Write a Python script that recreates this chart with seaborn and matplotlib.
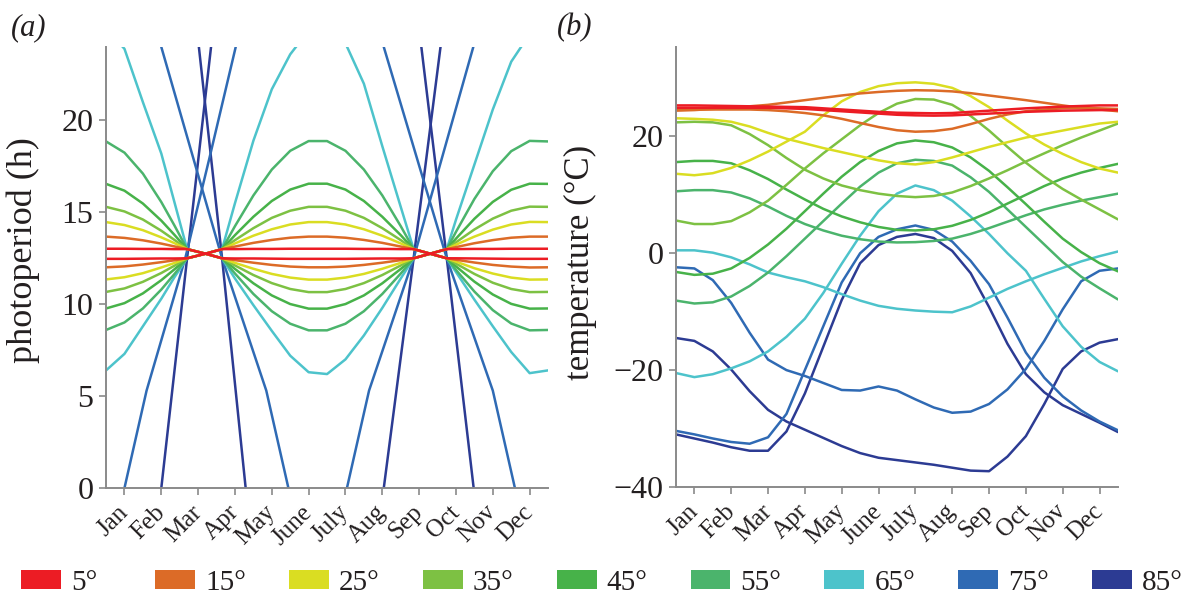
import numpy as np
import pandas as pd
import matplotlib
matplotlib.use("Agg")
import matplotlib.pyplot as plt
import matplotlib.transforms as mtransforms
from matplotlib.patches import Patch
import seaborn as sns

# ---------------- data ----------------
MONTHS = ["Jan", "Feb", "Mar", "Apr", "May", "June", "July", "Aug", "Sep", "Oct", "Nov", "Dec"]
LATS = ["5°", "15°", "25°", "35°", "45°", "55°", "65°", "75°", "85°"]

# (a) photoperiod (h); month index 0 = Jan tick
photo_x = [-0.5, 0, 0.5, 1, 1.35, 1.7, 2.2, 2.65, 3, 3.5, 4, 4.5, 5, 5.5, 6, 6.5,
           7, 7.5, 7.85, 8.3, 8.75, 9, 9.5, 10, 10.5, 11, 11.5]
photo_5N = [12.47, 12.47, 12.48, 12.49, 12.49, 12.5, 12.75, 13.0, 13.0, 13.01, 13.01, 13.02, 13.02, 13.02,
            13.02, 13.01, 13.01, 13.0, 13.0, 12.75, 12.5, 12.5, 12.49, 12.48, 12.47, 12.47, 12.47]
photo_5S = [13.02, 13.02, 13.01, 13.01, 13.0, 13.0, 12.75, 12.5, 12.49, 12.49, 12.48, 12.47, 12.47, 12.47,
            12.47, 12.48, 12.49, 12.49, 12.5, 12.75, 13.0, 13.0, 13.01, 13.01, 13.02, 13.02, 13.02]
photo_15N = [12.01, 12.06, 12.16, 12.29, 12.39, 12.5, 12.75, 13.0, 13.14, 13.34, 13.50, 13.62, 13.68, 13.68,
             13.62, 13.50, 13.34, 13.14, 13.0, 12.75, 12.5, 12.42, 12.27, 12.14, 12.05, 12.0, 12.01]
photo_15S = [13.68, 13.61, 13.48, 13.30, 13.15, 13.0, 12.75, 12.5, 12.40, 12.26, 12.14, 12.05, 12.01, 12.01,
             12.05, 12.14, 12.26, 12.40, 12.5, 12.75, 13.0, 13.11, 13.32, 13.49, 13.62, 13.68, 13.68]
photo_25N = [11.35, 11.47, 11.69, 12.0, 12.24, 12.5, 12.75, 13.0, 13.31, 13.73, 14.08, 14.34, 14.47, 14.47,
             14.34, 14.08, 13.73, 13.31, 13.0, 12.75, 12.5, 12.32, 11.96, 11.67, 11.45, 11.34, 11.35]
photo_25S = [14.47, 14.31, 14.03, 13.64, 13.33, 13.0, 12.75, 12.5, 12.25, 11.93, 11.65, 11.45, 11.34, 11.34,
             11.45, 11.65, 11.93, 12.25, 12.5, 12.75, 13.0, 13.24, 13.68, 14.06, 14.34, 14.48, 14.47]
photo_35N = [10.67, 10.86, 11.22, 11.7, 12.09, 12.5, 12.75, 13.0, 13.49, 14.14, 14.70, 15.09, 15.30, 15.30,
             15.09, 14.70, 14.14, 13.49, 13.0, 12.75, 12.5, 12.21, 11.65, 11.17, 10.83, 10.66, 10.67]
photo_35S = [15.30, 15.05, 14.61, 14.0, 13.51, 13.0, 12.75, 12.5, 12.11, 11.59, 11.15, 10.83, 10.66, 10.66,
             10.83, 11.15, 11.59, 12.11, 12.5, 12.75, 13.0, 13.37, 14.07, 14.66, 15.09, 15.31, 15.30]
photo_45N = [9.77, 10.06, 10.59, 11.31, 11.89, 12.5, 12.75, 13.0, 13.76, 14.76, 15.62, 16.24, 16.56, 16.56,
             16.24, 15.62, 14.76, 13.76, 13.0, 12.75, 12.5, 12.06, 11.23, 10.53, 10.02, 9.76, 9.77]
photo_45S = [16.55, 16.18, 15.48, 14.55, 13.79, 13.0, 12.75, 12.5, 11.92, 11.14, 10.48, 10.01, 9.76, 9.76,
             10.01, 10.48, 11.14, 11.92, 12.5, 12.75, 13.0, 13.57, 14.65, 15.57, 16.23, 16.56, 16.55]
photo_55N = [8.6, 9.01, 9.77, 10.8, 11.63, 12.5, 12.75, 13.0, 14.25, 15.92, 17.33, 18.35, 18.88, 18.88,
             18.35, 17.33, 15.92, 14.25, 13.0, 12.75, 12.5, 11.87, 10.69, 9.68, 8.95, 8.58, 8.6]
photo_55S = [18.86, 18.25, 17.11, 15.56, 14.31, 13.0, 12.75, 12.5, 11.67, 10.56, 9.62, 8.94, 8.58, 8.58,
             8.94, 9.62, 10.56, 11.67, 12.5, 12.75, 13.0, 13.94, 15.73, 17.24, 18.33, 18.89, 18.86]
photo_65N = [6.4, 7.3, 8.8, 10.3, 11.45, 12.5, 12.75, 13.0, 15.5, 18.9, 21.7, 23.6, 24.9, 24.9,
             24.2, 22.0, 18.6, 15.3, 13.0, 12.75, 12.5, 11.75, 10.25, 8.8, 7.4, 6.25, 6.4]
photo_65S = [25.0, 23.9, 21.0, 18.2, 15.6, 13.0, 12.75, 12.5, 11.4, 9.95, 8.55, 7.2, 6.3, 6.2,
             7.0, 8.3, 9.8, 11.4, 12.5, 12.75, 13.0, 14.6, 17.6, 20.6, 23.2, 24.7, 25.0]
# polar latitudes: steep segments between polar night (0 h) and midnight sun (24 h)
photo_75N_rise_x = [0.0, 0.6, 1.65, 2.3, 3.02]
photo_75N_rise = [0, 5.3, 12.5, 17.9, 24]
photo_75N_fall_x = [7.04, 8.75, 10.0, 10.6]
photo_75N_fall = [24, 12.5, 5.3, 0]
photo_75S_fall_x = [1.0, 2.65, 3.85, 4.45]
photo_75S_fall = [24, 12.5, 5.3, 0]
photo_75S_rise_x = [6.04, 6.64, 7.85, 9.47]
photo_75S_rise = [0, 5.3, 12.5, 24]
photo_85N_rise_x = [1.0, 1.7, 2.35]
photo_85N_rise = [0, 12.5, 24]
photo_85N_fall_x = [8.06, 8.75, 9.48]
photo_85N_fall = [24, 12.5, 0]
photo_85S_fall_x = [2.02, 2.65, 3.29]
photo_85S_fall = [24, 12.5, 0]
photo_85S_rise_x = [7.04, 7.85, 8.58]
photo_85S_rise = [0, 12.5, 24]

# (b) temperature (°C), read every half month
temp_x = [-0.5, 0, 0.5, 1, 1.5, 2, 2.5, 3, 3.5, 4, 4.5, 5, 5.5, 6, 6.5, 7, 7.5, 8,
          8.5, 9, 9.5, 10, 10.5, 11, 11.5]
temp_5N = [25.3, 25.3, 25.25, 25.2, 25.15, 25.1, 25.05, 25.0, 24.8, 24.6, 24.4, 24.2, 24.05,
           24.0, 23.95, 24.0, 24.2, 24.4, 24.6, 24.8, 24.95, 25.1, 25.2, 25.3, 25.3]
temp_5S = [24.9, 24.9, 24.9, 24.9, 24.9, 24.9, 24.8, 24.7, 24.5, 24.3, 24.1, 23.9, 23.7,
           23.6, 23.55, 23.6, 23.75, 23.9, 24.05, 24.2, 24.3, 24.4, 24.45, 24.5, 24.5]
temp_15N = [24.4, 24.5, 24.7, 24.9, 25.15, 25.4, 25.8, 26.2, 26.6, 27.0, 27.35, 27.6, 27.8,
            27.9, 27.85, 27.7, 27.4, 27.0, 26.6, 26.2, 25.75, 25.3, 24.9, 24.6, 24.3]
temp_15S = [24.6, 24.6, 24.6, 24.6, 24.6, 24.5, 24.3, 24.0, 23.6, 23.0, 22.3, 21.6, 21.05,
            20.8, 20.9, 21.3, 22.1, 23.0, 23.75, 24.3, 24.6, 24.8, 24.85, 24.8, 24.7]
temp_25N = [13.6, 13.35, 13.7, 14.6, 15.9, 17.4, 19.1, 20.8, 23.6, 26.0, 27.6, 28.6, 29.1,
            29.25, 29.0, 28.3, 26.9, 25.0, 22.7, 20.5, 18.6, 17.0, 15.6, 14.5, 13.8]
temp_25S = [23.1, 23.0, 22.85, 22.5, 21.7, 20.6, 19.6, 18.8, 18.0, 17.3, 16.6, 15.9, 15.4,
            15.2, 15.6, 16.4, 17.3, 18.2, 19.0, 19.8, 20.4, 21.0, 21.6, 22.2, 22.5]
temp_35N = [5.6, 5.0, 5.0, 5.5, 7.0, 9.0, 11.7, 14.5, 17.1, 19.5, 21.9, 24.0, 25.6,
            26.4, 26.3, 25.4, 23.5, 21.0, 18.2, 15.5, 13.1, 11.0, 9.2, 7.5, 5.8]
temp_35S = [22.4, 22.5, 22.4, 21.9, 20.4, 18.5, 16.3, 14.3, 12.8, 11.6, 10.8, 10.2, 9.8,
            9.6, 9.8, 10.4, 11.5, 12.8, 14.2, 15.7, 17.1, 18.5, 19.8, 21.0, 22.2]
temp_45N = [-3.2, -3.7, -3.5, -2.6, -0.8, 1.5, 4.2, 7.2, 10.2, 13.1, 15.6, 17.5, 18.8,
            19.3, 19.0, 18.1, 16.4, 14.1, 11.3, 8.4, 5.4, 2.5, 0.2, -1.7, -3.1]
temp_45S = [15.6, 15.8, 15.8, 15.4, 14.2, 12.7, 10.9, 9.2, 7.6, 6.3, 5.3, 4.5, 4.0,
            3.9, 4.1, 4.7, 5.7, 7.0, 8.5, 10.0, 11.5, 12.8, 13.8, 14.6, 15.3]
temp_55N = [-8.1, -8.6, -8.4, -7.4, -5.6, -3.3, -0.5, 2.5, 5.5, 8.5, 11.4, 13.8, 15.4,
            16.0, 15.8, 15.0, 13.0, 10.5, 7.5, 4.5, 1.5, -1.5, -4.0, -6.0, -7.9]
temp_55S = [10.6, 10.8, 10.8, 10.4, 9.4, 8.0, 6.4, 5.0, 3.9, 3.0, 2.4, 2.0, 1.85,
            1.9, 2.1, 2.5, 3.3, 4.3, 5.4, 6.5, 7.5, 8.3, 9.0, 9.6, 10.2]
temp_65N = [-20.5, -21.2, -20.7, -19.7, -18.5, -16.8, -14.3, -11.2, -6.8, -1.8, 3.0, 7.2, 10.2,
            11.6, 10.8, 9.0, 6.3, 3.3, 0.0, -3.0, -7.8, -12.5, -16.0, -18.6, -20.2]
temp_65S = [0.5, 0.5, 0.1, -0.7, -1.9, -3.3, -4.1, -4.8, -5.8, -7.0, -8.1, -9.0, -9.5,
            -9.8, -10.0, -10.1, -9.1, -7.6, -6.1, -4.8, -3.6, -2.5, -1.4, -0.5, 0.3]
temp_75N = [-30.4, -31.0, -31.7, -32.3, -32.6, -31.5, -27.5, -20.0, -12.5, -5.0, 0.0, 2.8, 4.1,
            4.75, 4.0, 2.0, -1.3, -5.3, -11.0, -17.0, -21.3, -24.5, -26.9, -28.8, -30.3]
temp_75S = [-2.4, -2.6, -4.6, -8.5, -13.6, -18.2, -20.0, -21.0, -22.2, -23.4, -23.5, -22.8, -23.5,
            -25.0, -26.4, -27.3, -27.1, -25.8, -23.3, -19.8, -15.0, -9.6, -4.8, -3.0, -2.6]
temp_85N = [-31.0, -31.7, -32.4, -33.2, -33.8, -33.8, -30.5, -24.0, -16.0, -8.0, -1.7, 1.4, 2.8,
            3.3, 2.6, 0.4, -3.4, -9.2, -15.5, -20.7, -23.8, -26.0, -27.5, -29.0, -30.6]
temp_85S = [-14.5, -15.0, -16.8, -19.9, -23.6, -26.8, -28.8, -30.2, -31.6, -33.0, -34.2, -35.0, -35.4,
            -35.8, -36.2, -36.7, -37.2, -37.3, -34.8, -31.3, -25.8, -19.8, -16.8, -15.3, -14.7]

# ---------------- style ----------------
COLORS = {"5°": "#ec1c24", "15°": "#dc6b27", "25°": "#dadd22", "35°": "#7dc143",
          "45°": "#47b249", "55°": "#4bb46c", "65°": "#4dc3cb", "75°": "#2f6ab4", "85°": "#2c3b93"}

sns.set_theme(style="ticks")
plt.rcParams["font.family"] = ["Liberation Serif", "DejaVu Serif"]
plt.rcParams["axes.unicode_minus"] = True

GRAY = "#8a8a8a"
TXT = "#231f20"
LW = 1.8

fig = plt.figure(figsize=(11.93, 5.97), dpi=100)
axA = fig.add_axes([0.0889, 0.1826, 0.3705, 0.7387])
axB = fig.add_axes([0.5666, 0.1843, 0.3705, 0.7370])

def draw(ax, x, y, lat):
    sns.lineplot(x=x, y=y, color=COLORS[lat], lw=LW, ax=ax, estimator=None,
                 sort=False, legend=False)

photo_series = [
    ("85°", photo_85N_rise_x, photo_85N_rise), ("85°", photo_85N_fall_x, photo_85N_fall),
    ("85°", photo_85S_fall_x, photo_85S_fall), ("85°", photo_85S_rise_x, photo_85S_rise),
    ("75°", photo_75N_rise_x, photo_75N_rise), ("75°", photo_75N_fall_x, photo_75N_fall),
    ("75°", photo_75S_fall_x, photo_75S_fall), ("75°", photo_75S_rise_x, photo_75S_rise),
    ("65°", photo_x, photo_65N), ("65°", photo_x, photo_65S),
    ("55°", photo_x, photo_55N), ("55°", photo_x, photo_55S),
    ("45°", photo_x, photo_45N), ("45°", photo_x, photo_45S),
    ("35°", photo_x, photo_35N), ("35°", photo_x, photo_35S),
    ("25°", photo_x, photo_25N), ("25°", photo_x, photo_25S),
    ("15°", photo_x, photo_15N), ("15°", photo_x, photo_15S),
    ("5°", photo_x, photo_5N), ("5°", photo_x, photo_5S),
]
for lat, x, y in photo_series:
    draw(axA, x, y, lat)

temp_series = [
    ("85°", temp_85N), ("85°", temp_85S), ("75°", temp_75N), ("75°", temp_75S),
    ("65°", temp_65N), ("65°", temp_65S), ("55°", temp_55N), ("55°", temp_55S),
    ("45°", temp_45N), ("45°", temp_45S), ("35°", temp_35N), ("35°", temp_35S),
    ("25°", temp_25N), ("25°", temp_25S), ("15°", temp_15N), ("15°", temp_15S),
    ("5°", temp_5N), ("5°", temp_5S),
]
for lat, y in temp_series:
    draw(axB, temp_x, y, lat)

shift = mtransforms.ScaledTranslation(6 / 100, 0, fig.dpi_scale_trans)
for ax in (axA, axB):
    sns.despine(ax=ax)
    ax.set_xlim(-0.5, 11.5)
    ax.set_xticks(range(12))
    ax.set_xticklabels(MONTHS, rotation=45, ha="right", va="center",
                       rotation_mode="anchor", fontsize=18, color=TXT)
    for lab in ax.get_xticklabels():
        lab.set_transform(lab.get_transform() + shift)
    ax.tick_params(axis="x", pad=10)
    for side in ("left", "bottom"):
        ax.spines[side].set_color(GRAY)
        ax.spines[side].set_linewidth(1.4)
    ax.tick_params(colors=GRAY, length=5, width=1.2, labelcolor=TXT)
    ax.tick_params(axis="y", labelsize=23, pad=4)
    ax.set_xlabel("")
    ax.set_facecolor("white")

axA.set_ylim(0, 24)
axA.set_yticks([0, 5, 10, 15, 20])
axA.set_ylabel("photoperiod (h)", fontsize=26, color=TXT)
axA.yaxis.set_label_coords(-0.149, 0.54)

axB.set_ylim(-40, 35.3)
axB.set_yticks([-40, -20, 0, 20])
axB.set_ylabel("temperature (°C)", fontsize=25, color=TXT)
axB.yaxis.set_label_coords(-0.178, 0.51)

fig.text(0.009, 0.953, "(a)", fontsize=22, style="italic", color=TXT, va="center")
fig.text(0.467, 0.953, "(b)", fontsize=22, style="italic", color=TXT, va="center")

# legend: one entry per latitude, evenly spaced along the bottom
for i, lat in enumerate(LATS):
    leg = fig.legend(handles=[Patch(facecolor=COLORS[lat], edgecolor="none", label=lat)],
                     loc="center left", bbox_to_anchor=((21 + 133.9 * i) / 1193, 0.0235),
                     frameon=False, fontsize=21, handlelength=1.37, handleheight=0.65,
                     handletextpad=0.35, borderaxespad=0, borderpad=0, labelcolor=TXT)

fig.savefig("out.png", dpi=100, facecolor="white")
